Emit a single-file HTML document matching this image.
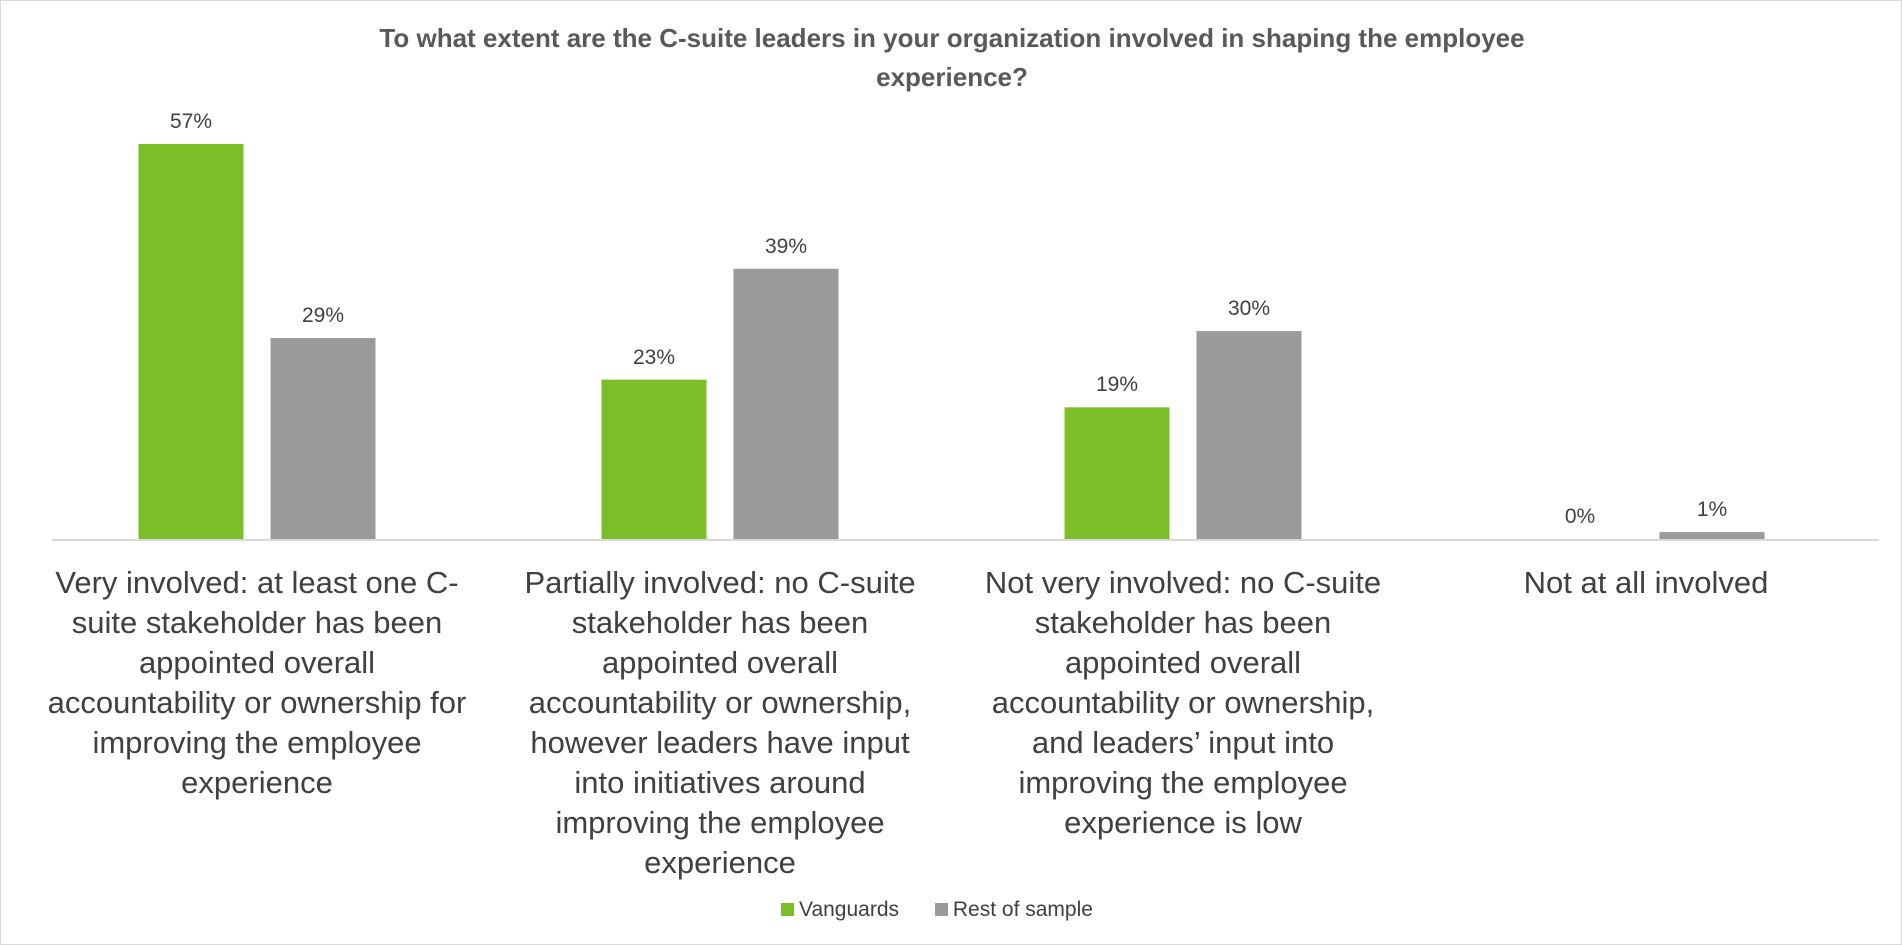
<!DOCTYPE html>
<html><head><meta charset="utf-8"><style>
body{margin:0;background:#fff;font-family:"Liberation Sans",sans-serif;}
#c{position:relative;width:1900px;height:943px;border:1px solid #d9d9d9;overflow:hidden;}
.t{position:absolute;left:0;width:1902px;text-align:center;font-weight:bold;font-size:26px;color:#595959;}
.cat{position:absolute;text-align:center;font-size:31px;line-height:40px;color:#404040;width:440px;}
.v{position:absolute;font-size:21px;color:#404040;text-align:center;width:100px;}
</style></head><body>
<div id="c">
<div class="t" style="top:22px">To what extent are the C-suite leaders in your organization involved in shaping the employee<br><span style="line-height:46px">experience?</span></div>
<svg id="s" width="1902" height="945" style="position:absolute;left:0;top:0"></svg>
<div id="labels"></div>
<div style="position:absolute;top:897px;left:780px;font-size:21px;color:#404040">
<span><span style="display:inline-block;width:13px;height:13px;background:#7bbe27;margin-right:5px"></span>Vanguards</span>
<span style="margin-left:30px"><span style="display:inline-block;width:13px;height:13px;background:#9b9b9b;margin-right:5px"></span>Rest of sample</span>
</div>
</div>
<script>
const categories=["Very involved: at least one C-suite stakeholder has been appointed overall accountability or ownership for improving the employee experience","Partially involved: no C-suite stakeholder has been appointed overall accountability or ownership, however leaders have input into initiatives around improving the employee experience","Not very involved: no C-suite stakeholder has been appointed overall accountability or ownership, and leaders’ input into improving the employee experience is low","Not at all involved"];
const catLines=[["Very involved: at least one C-","suite stakeholder has been","appointed overall","accountability or ownership for","improving the employee","experience"],["Partially involved: no C-suite","stakeholder has been","appointed overall","accountability or ownership,","however leaders have input","into initiatives around","improving the employee","experience"],["Not very involved: no C-suite","stakeholder has been","appointed overall","accountability or ownership,","and leaders’ input into","improving the employee","experience is low"],["Not at all involved"]];
const vanguards=[57,23,19,0];
const rest=[29,39,30,1];
const base=538,ppu=6.93,c0=256,step=463,bw=105,off=66;
const y=v=>base-v*ppu, xc=i=>c0+i*step;
const s=document.getElementById('s'),NS='http://www.w3.org/2000/svg';
const ax=document.createElementNS(NS,'line');
ax.setAttribute('x1',51);ax.setAttribute('x2',1878);ax.setAttribute('y1',base+1);ax.setAttribute('y2',base+1);
ax.setAttribute('stroke','#d9d9d9');ax.setAttribute('stroke-width',2);


s.appendChild(ax);
const L=document.getElementById('labels');
function bar(i,v,dx,col,nm){
 const r=document.createElementNS(NS,'rect');
 r.setAttribute('x',xc(i)+dx-bw/2);r.setAttribute('y',y(v));r.setAttribute('width',bw);r.setAttribute('height',v*ppu);r.setAttribute('fill',col);
 
 
 s.appendChild(r);
 const d=document.createElement('div');d.className='v';d.textContent=v+'%';
 d.style.left=(xc(i)+dx-50)+'px';d.style.top=(y(v)-34)+'px';
 
 
 L.appendChild(d);
}
categories.forEach((c,i)=>{
 bar(i,vanguards[i],-off,'#7bbe27','vanguards');
 bar(i,rest[i],off,'#9b9b9b','rest');
 const d=document.createElement('div');d.className='cat';
 d.innerHTML=catLines[i].join('<br>');
 d.title=c;
 d.style.left=(xc(i)-220)+'px';d.style.top='562px';
 
 
 L.appendChild(d);
});
</script>
</body></html>
